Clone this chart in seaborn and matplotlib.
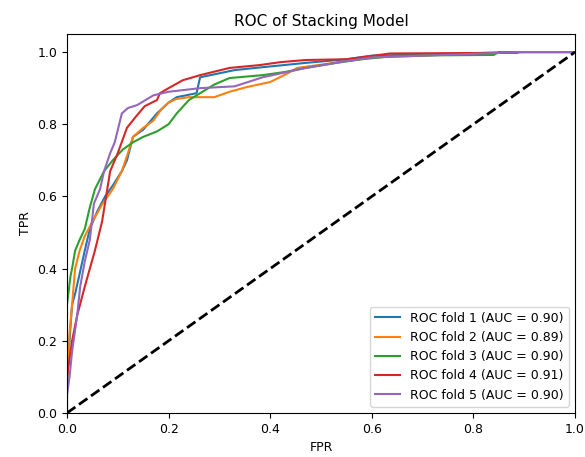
import numpy as np
import pandas as pd
import matplotlib
matplotlib.use('Agg')
import matplotlib.pyplot as plt
import seaborn as sns

# ROC points (fpr, tpr) per fold
fold1_fpr = [0, 0, 0.005, 0.01, 0.016, 0.024, 0.035, 0.045, 0.06, 0.075, 0.09, 0.108, 0.118, 0.13, 0.15,
             0.177, 0.2, 0.216, 0.255, 0.262, 0.33, 0.385, 0.47, 0.55, 0.6, 0.75, 0.9, 1.0]
fold1_tpr = [0, 0.08, 0.2, 0.3, 0.33, 0.38, 0.45, 0.51, 0.56, 0.6, 0.63, 0.67, 0.7, 0.765, 0.785,
             0.83, 0.86, 0.875, 0.886, 0.93, 0.95, 0.958, 0.97, 0.98, 0.99, 0.995, 1.0, 1.0]

fold2_fpr = [0, 0, 0.003, 0.005, 0.01, 0.016, 0.025, 0.035, 0.05, 0.07, 0.09, 0.108, 0.12, 0.13, 0.15,
             0.17, 0.185, 0.2, 0.215, 0.24, 0.29, 0.32, 0.354, 0.4, 0.433, 0.453, 0.5, 0.55, 0.6, 0.7,
             0.8, 0.88, 1.0]
fold2_tpr = [0, 0.06, 0.15, 0.22, 0.3, 0.4, 0.45, 0.49, 0.53, 0.58, 0.62, 0.67, 0.72, 0.765, 0.79,
             0.81, 0.84, 0.86, 0.87, 0.875, 0.875, 0.89, 0.903, 0.917, 0.94, 0.956, 0.965, 0.975, 0.985, 0.99,
             0.997, 1.0, 1.0]

fold3_fpr = [0, 0, 0.007, 0.01, 0.016, 0.025, 0.035, 0.045, 0.055, 0.073, 0.09, 0.11, 0.13, 0.15, 0.177,
             0.2, 0.216, 0.24, 0.262, 0.29, 0.32, 0.385, 0.43, 0.47, 0.53, 0.58, 0.65, 0.84, 0.85, 1.0]
fold3_tpr = [0, 0.3, 0.38, 0.4, 0.45, 0.48, 0.51, 0.57, 0.62, 0.67, 0.7, 0.73, 0.75, 0.765, 0.78,
             0.8, 0.83, 0.867, 0.886, 0.91, 0.928, 0.936, 0.945, 0.956, 0.97, 0.98, 0.99, 0.992, 1.0, 1.0]

fold4_fpr = [0, 0, 0.005, 0.01, 0.02, 0.035, 0.045, 0.055, 0.069, 0.085, 0.1, 0.118, 0.135, 0.153, 0.177,
             0.183, 0.2, 0.228, 0.262, 0.32, 0.38, 0.42, 0.47, 0.55, 0.636, 0.886, 0.89, 1.0]
fold4_tpr = [0, 0.1, 0.15, 0.2, 0.27, 0.35, 0.4, 0.45, 0.53, 0.67, 0.72, 0.79, 0.82, 0.85, 0.867,
             0.886, 0.9, 0.922, 0.936, 0.956, 0.964, 0.972, 0.978, 0.98, 0.996, 0.998, 1.0, 1.0]

fold5_fpr = [0, 0, 0.005, 0.01, 0.02, 0.026, 0.035, 0.045, 0.053, 0.065, 0.073, 0.085, 0.094, 0.108, 0.12,
             0.138, 0.17, 0.2, 0.262, 0.33, 0.385, 0.47, 0.55, 0.6, 0.7, 0.8, 0.89, 1.0]
fold5_tpr = [0, 0.05, 0.1, 0.17, 0.27, 0.35, 0.42, 0.48, 0.58, 0.62, 0.67, 0.72, 0.75, 0.83, 0.845,
             0.853, 0.88, 0.89, 0.9, 0.905, 0.93, 0.956, 0.975, 0.985, 0.99, 0.995, 1.0, 1.0]

aucs = [0.90, 0.89, 0.90, 0.91, 0.90]
colors = ['#1f77b4', '#ff7f0e', '#2ca02c', '#d62728', '#9467bd']

folds = [(fold1_fpr, fold1_tpr), (fold2_fpr, fold2_tpr), (fold3_fpr, fold3_tpr),
         (fold4_fpr, fold4_tpr), (fold5_fpr, fold5_tpr)]

plt.rcParams['font.family'] = ['DejaVu Sans']
fig, ax = plt.subplots(figsize=(5.85, 4.57), dpi=100)
fig.subplots_adjust(left=0.1145, right=0.983, bottom=0.0963, top=0.9256)

for i, (fpr, tpr) in enumerate(folds):
    df = pd.DataFrame({'fpr': fpr, 'tpr': tpr})
    sns.lineplot(x='fpr', y='tpr', data=df, ax=ax, sort=False, estimator=None,
                 color=colors[i], linewidth=1.5,
                 label=f'ROC fold {i + 1} (AUC = {aucs[i]:.2f})')

ax.plot([0, 1], [0, 1], color='black', linestyle='--', linewidth=2)

ax.set_xlim(0, 1.0)
ax.set_ylim(0, 1.05)
ax.set_title('ROC of Stacking Model', fontsize=11)
ax.set_xlabel('FPR', fontsize=9)
ax.set_ylabel('TPR', fontsize=9)
ax.tick_params(labelsize=9)
ax.legend(loc='lower right', fontsize=9)

fig.savefig('out.png', dpi=100)
